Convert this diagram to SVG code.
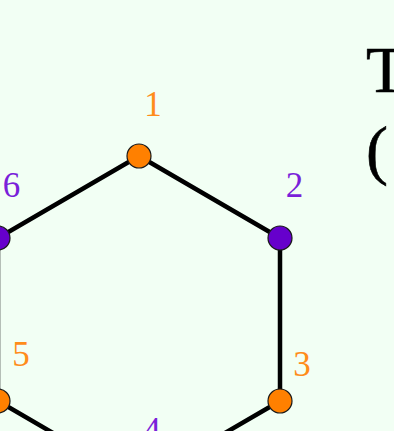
<svg xmlns="http://www.w3.org/2000/svg" width="394" height="431" viewBox="0 0 394 431">
<style>
.edge{stroke:#000;stroke-width:4.5;stroke-linecap:round;fill:none}
.node{stroke:#1a1a1a;stroke-width:1.2}
.o{fill:#ff8000}
.p{fill:#6600cc}
.lbl{font-family:"Liberation Serif","Times New Roman",serif;font-size:35px;text-anchor:middle}
.lo{fill:#ff8c1a}
.lp{fill:#7a1fd9}
.title{font-family:"Liberation Serif","Times New Roman",serif;font-size:66px;fill:#000;stroke:#000;stroke-width:0.6}
</style>
<rect width="394" height="431" fill="#f2fff4"/>
<g id="connectors">
<line class="edge" x1="139" y1="156" x2="280" y2="238"/>
<line class="edge" x1="280" y1="238" x2="280" y2="401"/>
<line class="edge" x1="280" y1="401" x2="139" y2="483"/>
<line class="edge" x1="139" y1="483" x2="-2" y2="401"/>
<line class="edge" x1="-2" y1="401" x2="-2" y2="238"/>
<line class="edge" x1="-2" y1="238" x2="139" y2="156"/>
</g>
<g id="node1"><circle class="node o" cx="139" cy="156" r="12"/><text class="lbl lo" x="153" y="116">1</text></g>
<g id="node2"><circle class="node p" cx="280" cy="238" r="12"/><text class="lbl lp" x="294.5" y="197">2</text></g>
<g id="node3"><circle class="node o" cx="280" cy="401" r="12"/><text class="lbl lo" x="302" y="376">3</text></g>
<g id="node4"><circle class="node p" cx="139" cy="483" r="12"/><text class="lbl lp" x="152" y="442">4</text></g>
<g id="node5"><circle class="node o" cx="-2" cy="401" r="12"/><text class="lbl lo" x="21" y="366">5</text></g>
<g id="node6"><circle class="node p" cx="-2" cy="238" r="12"/><text class="lbl lp" x="11.5" y="197">6</text></g>
<g id="title">
<text class="title" x="366" y="92">T</text>
<text class="title" x="366" y="172">(</text>
</g>
</svg>
